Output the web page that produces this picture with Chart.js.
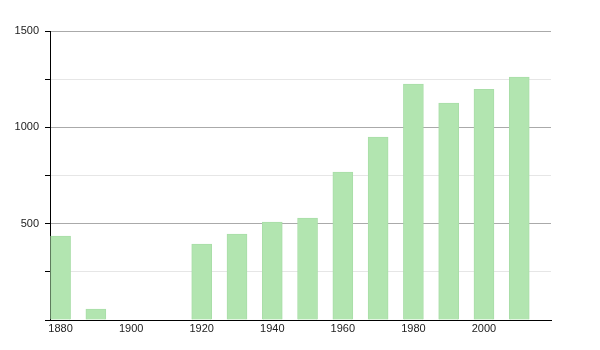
<!DOCTYPE html>
<html>
<head>
<meta charset="utf-8">
<script src="https://cdn.jsdelivr.net/npm/chart.js@4"></script>
<style>
  html, body { margin: 0; padding: 0; background: #fff; }
  #wrap { width: 600px; height: 350px; }
</style>
</head>
<body>
<div id="wrap"><canvas id="chart"></canvas></div>
<script>
// values
const years = [1880, 1890, 1920, 1930, 1940, 1950, 1960, 1970, 1980, 1990, 2000, 2010];
const population = [436, 57, 394, 446, 508, 529, 768, 950, 1225, 1126, 1197, 1261];
const xTicks = [1880, 1900, 1920, 1940, 1960, 1980, 2000];
const yTicks = [0, 250, 500, 750, 1000, 1250, 1500];

const points = years.map(function (y, i) {
  return { x: y, y: population[i] };
});

Chart.defaults.font.family = "'Liberation Sans', Arial, sans-serif";
Chart.defaults.font.size = 11;
Chart.defaults.color = '#222';

const ctx = document.getElementById('chart');
new Chart(ctx, {
  type: 'bar',
  data: {
    datasets: [{
      data: points,
      backgroundColor: '#b2e5b0',
      borderColor: '#a9dea8',
      borderWidth: 1,
      barThickness: 20,
    }],
  },
  options: {
    responsive: true,
    maintainAspectRatio: false,
    animation: false,
    layout: { padding: { top: 31, right: 49, bottom: 6, left: 0 } },
    plugins: {
      legend: { display: false },
      tooltip: { enabled: false },
    },
    scales: {
      x: {
        type: 'linear',
        offset: false,
        min: 1877,
        max: 2019,
        afterBuildTicks: function (scale) {
          scale.ticks = xTicks.map(function (v) { return { value: v }; });
        },
        afterFit: function (scale) { scale.height = 24; },
        grid: { display: false, offset: false, drawTicks: false, tickLength: 0 },
        border: { color: '#000', width: 1 },
        ticks: {
          padding: 2,
          maxRotation: 0,
          callback: function (v) { return String(v); },
        },
      },
      y: {
        min: 0,
        max: 1500,
        afterBuildTicks: function (scale) {
          scale.ticks = yTicks.map(function (v) { return { value: v }; });
        },
        afterFit: function (scale) { scale.width = 50; },
        border: { color: '#000', width: 1 },
        grid: {
          color: function (c) {
            if (c.tick && c.tick.value === 0) return 'rgba(0,0,0,0)';
            return c.tick && c.tick.value % 500 === 0 ? '#aaaaaa' : '#e6e6e6';
          },
          tickColor: '#000',
          tickLength: 5,
        },
        ticks: {
          padding: 6,
          callback: function (v) {
            return v !== 0 && v % 500 === 0 ? String(v) : '';
          },
        },
      },
    },
  },
});
</script>
</body>
</html>
